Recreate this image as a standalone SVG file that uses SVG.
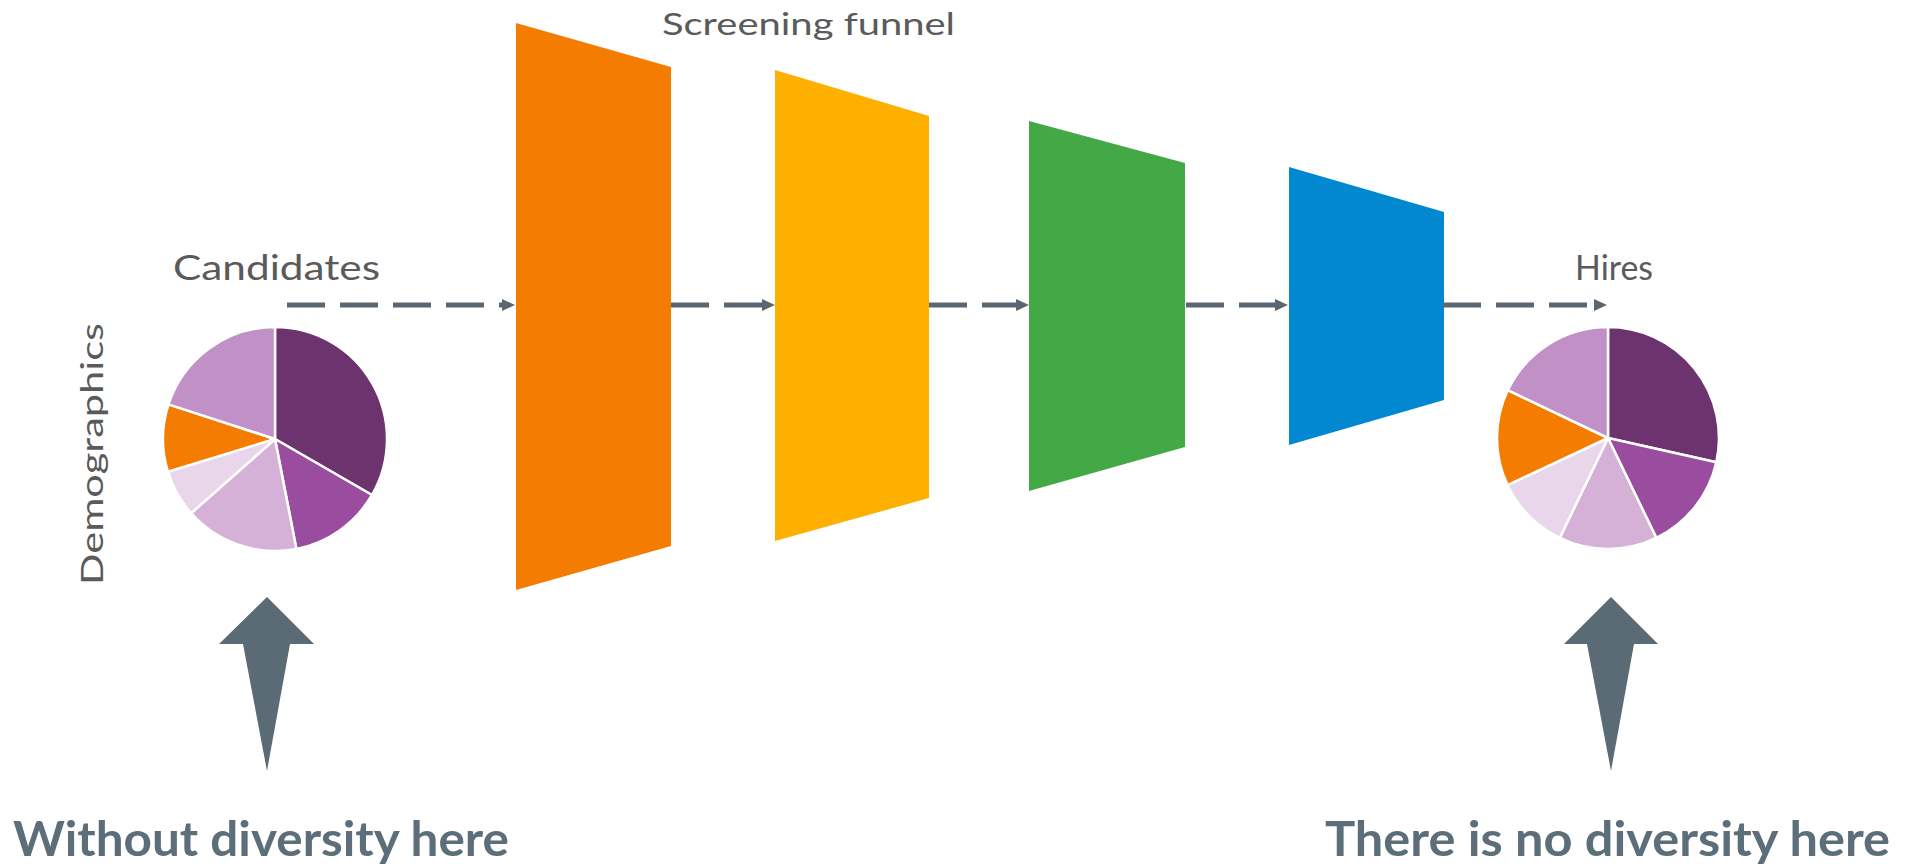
<svg xmlns="http://www.w3.org/2000/svg" width="1910" height="867" viewBox="0 0 1910 867">
  <defs>
    <style>
      .lbl { font-family: Lato, "DejaVu Sans", sans-serif; fill: #5a5a5a; font-weight: 400; }
      .big { font-family: Lato, "DejaVu Sans", sans-serif; fill: #5b6e79; font-weight: 700; font-size: 48px; }
      .flow { fill: none; stroke: #5a6671; stroke-width: 5; stroke-dasharray: 38 15; marker-end: url(#ah); }
      .slice { stroke: #ffffff; stroke-width: 2.5; stroke-linejoin: round; }
      .up { fill: #5a6b76; }
    </style>
    <marker id="ah" viewBox="0 0 13 12" refX="0" refY="6" markerWidth="13" markerHeight="12" markerUnits="userSpaceOnUse" orient="auto">
      <path d="M0 0 L13 6 L0 12 Z" fill="#5a6671"/>
    </marker>
  </defs>
  <rect width="1910" height="867" fill="#ffffff"/>

  <g id="title">
    <text class="lbl" x="662" y="35" font-size="30" textLength="293" lengthAdjust="spacingAndGlyphs">Screening funnel</text>
  </g>

  <g id="stage1"><polygon points="516,23 671,67 671,546 516,590" fill="#f47c00"/></g>
  <g id="stage2"><polygon points="775,70 929,116 929,498 775,541" fill="#fdb000"/></g>
  <g id="stage3"><polygon points="1029,121 1185,163 1185,447 1029,491" fill="#43a947"/></g>
  <g id="stage4"><polygon points="1289,167 1444,212 1444,400 1289,445" fill="#0288d1"/></g>

  <g id="connectors">
    <path class="flow" d="M287 305 L502 305"/>
    <path class="flow" d="M671 305 L762 305"/>
    <path class="flow" d="M929 305 L1016 305"/>
    <path class="flow" d="M1186 305 L1275 305"/>
    <path class="flow" d="M1443 305 L1594 305"/>
  </g>

  <g id="candidates">
    <text class="lbl" x="173" y="280" font-size="34" textLength="207" lengthAdjust="spacingAndGlyphs">Candidates</text>
    <path class="slice" fill="#6d336f" d="M275 439 L275 327 A112 112 0 0 1 372 495 Z"/>
    <path class="slice" fill="#9a4c9e" d="M275 439 L372 495 A112 112 0 0 1 296.4 548.9 Z"/>
    <path class="slice" fill="#d5b1d7" d="M275 439 L296.4 548.9 A112 112 0 0 1 191.1 513.2 Z"/>
    <path class="slice" fill="#e9d6ea" d="M275 439 L191.1 513.2 A112 112 0 0 1 167.9 471.7 Z"/>
    <path class="slice" fill="#f47c00" d="M275 439 L167.9 471.7 A112 112 0 0 1 168.5 404.4 Z"/>
    <path class="slice" fill="#c190c6" d="M275 439 L168.5 404.4 A112 112 0 0 1 275 327 Z"/>
  </g>

  <g id="demographics">
    <text class="lbl" x="0" y="0" font-size="30" textLength="262" lengthAdjust="spacingAndGlyphs" transform="translate(103 585) rotate(-90)">Demographics</text>
  </g>

  <g id="hires">
    <text class="lbl" x="1575" y="280" font-size="34" textLength="78" lengthAdjust="spacingAndGlyphs">Hires</text>
    <path class="slice" fill="#6d336f" d="M1608 438 L1608 327 A111 111 0 0 1 1716.3 462.2 Z"/>
    <path class="slice" fill="#9a4c9e" d="M1608 438 L1716.3 462.2 A111 111 0 0 1 1656.3 537.9 Z"/>
    <path class="slice" fill="#d5b1d7" d="M1608 438 L1656.3 537.9 A111 111 0 0 1 1559.7 537.9 Z"/>
    <path class="slice" fill="#e9d6ea" d="M1608 438 L1559.7 537.9 A111 111 0 0 1 1507.5 485.1 Z"/>
    <path class="slice" fill="#f47c00" d="M1608 438 L1507.5 485.1 A111 111 0 0 1 1507.8 390.2 Z"/>
    <path class="slice" fill="#c190c6" d="M1608 438 L1507.8 390.2 A111 111 0 0 1 1608 327 Z"/>
  </g>

  <g id="note-left">
    <polygon class="up" points="267,597 314,644 290,644 267,771 243,644 219,644"/>
    <text class="big" x="13" y="856" textLength="496" lengthAdjust="spacingAndGlyphs">Without diversity here</text>
  </g>

  <g id="note-right">
    <polygon class="up" points="1611,597 1658,644 1634,644 1611,771 1587,644 1564,644"/>
    <text class="big" x="1325" y="856" textLength="565" lengthAdjust="spacingAndGlyphs">There is no diversity here</text>
  </g>
</svg>
